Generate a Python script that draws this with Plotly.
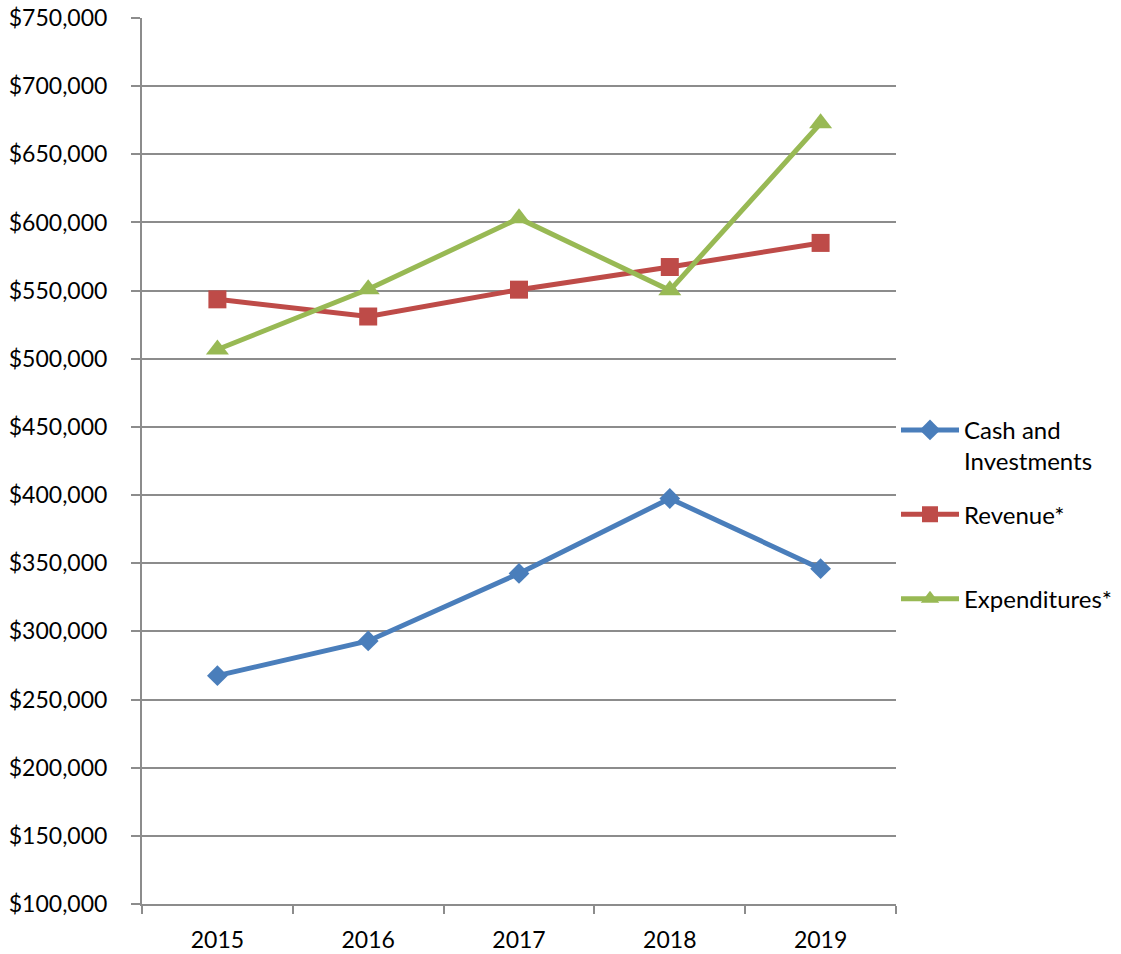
import plotly.graph_objects as go

years = ["2015", "2016", "2017", "2018", "2019"]
cash_investments = [267500, 293000, 342500, 397500, 346000]
revenue = [543600, 531000, 550700, 567300, 585000]
expenditures = [506800, 551000, 603000, 550200, 672800]

# Legend labels are padded to two lines so the three entries sit evenly spaced.
series = [
    ("Cash and<br>Investments", cash_investments, "#4A7EBB", "diamond", 16),
    ("Revenue*<br>&nbsp;", revenue, "#BE4B48", "square", 18),
    ("Expenditures*<br>&nbsp;", expenditures, "#98B954", "triangle-up", 20),
]

fig = go.Figure()
for i, (name, vals, color, symbol, msize) in enumerate(series):
    fig.add_trace(go.Scatter(
        x=years, y=vals, name=name, mode="lines+markers",
        line=dict(color=color, width=5),
        marker=dict(symbol=symbol, size=msize, color=color),
        legendgroup=str(i),
    ))

font_family = "Lato, 'Open Sans', sans-serif"
grid_color = "#8C8C8C"

fig.update_layout(
    width=1121, height=954,
    margin=dict(l=142, r=225, t=18, b=50, autoexpand=False),
    paper_bgcolor="white", plot_bgcolor="white",
    font=dict(family=font_family, size=23, color="#000000"),
    showlegend=True,
    legend=dict(
        x=1.0, xanchor="left", y=0.56, yanchor="top",
        valign="top", tracegroupgap=19,
        font=dict(size=24, color="#000000"),
        itemwidth=58,
    ),
    xaxis=dict(
        type="category", range=[-0.5, 4.5],
        tickson="boundaries", ticks="outside", ticklen=8,
        tickcolor=grid_color, tickwidth=2,
        showline=True, linecolor=grid_color, linewidth=2,
        showgrid=False, zeroline=False, automargin=False,
        ticklabelstandoff=14,
        tickfont=dict(size=23),
    ),
    yaxis=dict(
        range=[100000, 750000], dtick=50000, tick0=100000,
        tickprefix="$", tickformat=",.0f",
        ticks="outside", ticklen=9, tickcolor=grid_color, tickwidth=2,
        showline=True, linecolor=grid_color, linewidth=2,
        showgrid=True, gridcolor=grid_color, gridwidth=2,
        zeroline=False, ticklabelstandoff=19, automargin=False,
        tickfont=dict(size=23),
    ),
)

fig.write_html("out.html")
